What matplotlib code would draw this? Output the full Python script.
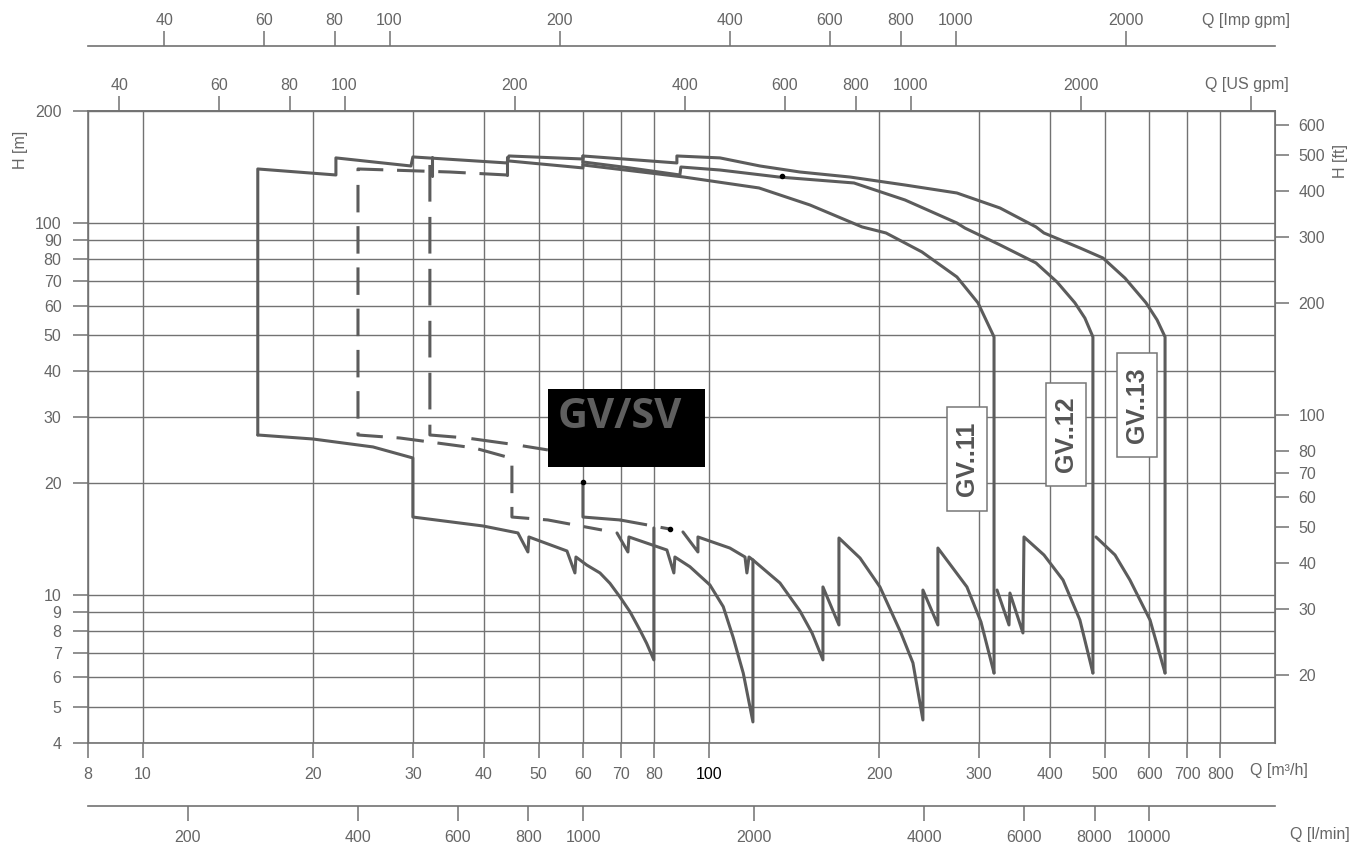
import matplotlib
matplotlib.use("Agg")
from matplotlib import pyplot as plt
from matplotlib import ticker
from matplotlib.patches import Rectangle

plt.rcParams['font.family'] = ['Liberation Sans', 'DejaVu Sans']

W, HPX = 1362, 848
LINE = '#5c5c5c'
GREY = '#666666'
GRID = '#727272'

# unit conversions from m3/h and m
US_GPM = 4.4029
IMP_GPM = 3.6662
L_MIN = 16.6667
FT = 3.28084

q_ticks = [8, 10, 20, 30, 40, 50, 60, 70, 80, 100, 200, 300, 400, 500, 600, 700, 800]
h_ticks = [4, 5, 6, 7, 8, 9, 10, 20, 30, 40, 50, 60, 70, 80, 90, 100, 200]
usgpm_ticks = [40, 60, 80, 100, 200, 400, 600, 800, 1000, 2000, 4000]
impgpm_ticks = [40, 60, 80, 100, 200, 400, 600, 800, 1000, 2000]
lmin_ticks = [200, 400, 600, 800, 1000, 2000, 4000, 6000, 8000, 10000]
ft_ticks = [20, 30, 40, 50, 60, 70, 80, 100, 200, 300, 400, 500, 600]

# outer envelope: min flow, max head steps, GV..13 top and max flow
env_q = [15.96, 15.96, 21.93, 21.93, 29.76, 29.99, 43.97, 44.33, 59.90, 59.90, 87.78, 87.78,
         104.6, 123.1, 144.8, 177.5, 222.0, 274.2, 326.8, 378.2, 390.7, 452.2, 496.7,
         543.2, 591.8, 618.9, 639.4, 639.4]
env_h = [26.92, 139.7, 134.6, 149.6, 142.3, 150.5, 145.0, 151.4, 148.6, 151.4, 145.0, 151.4,
         149.6, 142.3, 137.1, 132.9, 126.5, 120.4, 109.7, 97.6, 94.0, 85.7, 80.5,
         71.1, 61.0, 54.9, 49.4, 6.17]

gv12_q = [59.90, 72.52, 88.86, 89.22, 104.6, 132.9, 180.4, 222.0, 274.2, 283.3, 326.8,
          378.2, 412.0, 443.1, 461.5, 476.8, 476.8]
gv12_h = [145.9, 140.6, 134.6, 141.4, 138.8, 132.9, 128.1, 115.3, 100.0, 96.9, 87.3,
          78.1, 69.4, 61.0, 55.5, 49.4, 6.17]

gv11_q = [59.90, 90.33, 122.6, 150.8, 186.4, 205.5, 237.8, 274.2, 298.7, 318.9, 318.9]
gv11_h = [143.2, 132.9, 124.2, 111.8, 97.6, 94.0, 83.6, 71.6, 61.0, 49.4, 6.17]

top2_q = [44.33, 59.90, 59.90]
top2_h = [146.8, 140.6, 151.4]
step_q = [43.97, 43.97]
step_h = [134.6, 150.5]
stub_q = [32.4, 32.4]
stub_h = [150.5, 133.8]

# minimum head curves (sawtooth)
low1_q = [15.96, 19.97, 25.50, 29.99, 29.99, 39.87, 45.98, 47.89, 48.08, 56.13, 57.98,
          58.22, 60.81, 64.20, 66.85, 69.64, 72.52, 75.52, 77.61, 79.93, 79.93]
low1_h = [26.92, 26.26, 25.0, 23.35, 16.20, 15.33, 14.68, 13.05, 14.32, 13.13, 11.46,
          12.65, 12.04, 11.46, 10.75, 9.877, 9.018, 8.05, 7.417, 6.69, 15.14]

low2_q = [68.80, 71.93, 72.22, 84.28, 86.71, 87.07, 92.56, 100.4, 106.0, 110.3, 115.0,
          119.6, 119.6]
low2_h = [14.68, 13.05, 14.32, 13.21, 11.46, 12.65, 11.91, 10.64, 9.30, 7.71, 6.16,
          4.557, 12.42]

low3_q = [89.97, 95.63, 95.63, 108.9, 115.8, 116.7, 117.7, 119.6, 133.5, 144.8, 152.1,
          159.0, 159.0, 169.7, 169.7, 184.9, 200.5, 218.4, 229.3, 238.8, 238.8, 253.8,
          253.8, 285.6, 302.4, 318.9]
low3_h = [14.77, 13.05, 14.32, 13.37, 12.65, 11.46, 12.65, 12.42, 10.77, 9.058, 7.904,
          6.69, 10.51, 8.305, 14.23, 12.57, 10.51, 7.904, 6.567, 4.612, 10.31, 8.305,
          13.37, 10.51, 8.461, 6.17]

low4_q = [322.8, 338.9, 340.2, 358.7, 360.2, 390.7, 422.2, 452.2, 476.8]
low4_h = [10.31, 8.305, 10.12, 7.904, 14.32, 12.81, 10.97, 8.566, 6.17]

low5_q = [482.7, 521.6, 554.3, 601.5, 639.4]
low5_h = [14.32, 12.81, 10.97, 8.566, 6.17]

# dashed ranges
d1_q = [43.97, 34.86, 23.99, 23.99, 28.46, 37.36, 39.07, 43.97, 44.87, 44.87, 51.94, 64.72]
d1_h = [134.6, 137.1, 139.7, 26.92, 26.42, 25.0, 24.69, 23.49, 23.06, 16.20, 15.91, 14.95]
d2_q = [32.14, 32.14, 37.36, 45.80, 51.94]
d2_h = [143.2, 26.92, 26.42, 25.31, 24.54]

sv_q = [59.90, 59.90, 69.64]
sv_h = [20.13, 16.20, 15.91]
sv_dash_q = [69.64, 85.32]
sv_dash_h = [15.91, 15.04]

dot_q = [59.90, 85.32, 134.6]
dot_h = [20.13, 15.04, 133.5]


def fx(px):
    return px / W


def fy(py):
    return 1 - py / HPX


fig = plt.figure(figsize=(W / 100, HPX / 100), dpi=100)
ax = fig.add_axes([fx(88), fy(743), (1275 - 88) / W, (743 - 111) / HPX])
ax.set_xscale('log')
ax.set_yscale('log')
ax.set_xlim(8, 1000)
ax.set_ylim(4, 200)

ax.set_xticks(q_ticks, labels=[str(t) for t in q_ticks])
ax.set_yticks(h_ticks, labels=[str(t) for t in h_ticks])
ax.minorticks_off()
ax.grid(True, color=GRID, lw=1.0)
ax.tick_params(axis='both', direction='out', length=11, width=1.1, color=GRID,
               labelcolor=GREY, labelsize=11.5)
ax.tick_params(axis='x', pad=6)
ax.tick_params(axis='y', pad=8)
for s in ax.spines.values():
    s.set_color(GRID)
    s.set_linewidth(1.2)
ax.xaxis.get_major_ticks()[q_ticks.index(100)].label1.set_color('black')

solid = dict(color=LINE, lw=2.2, solid_joinstyle='round', solid_capstyle='round')
for q, h in [(env_q, env_h), (gv12_q, gv12_h), (gv11_q, gv11_h), (top2_q, top2_h),
             (step_q, step_h), (stub_q, stub_h), (low1_q, low1_h), (low2_q, low2_h),
             (low3_q, low3_h), (low4_q, low4_h), (low5_q, low5_h), (sv_q, sv_h)]:
    ax.plot(q, h, **solid)
ax.plot(d1_q, d1_h, color=LINE, lw=2.2, ls=(0, (9, 4.5)))
ax.plot(d2_q, d2_h, color=LINE, lw=2.2, ls=(0, (12, 5)))
ax.plot(sv_dash_q, sv_dash_h, color=LINE, lw=2.2, ls=(0, (9, 4.5)))
ax.plot(dot_q, dot_h, 'o', color='black', ms=3, zorder=4)


def sec_x(loc, factor, ticks, labels, pad):
    sec = ax.secondary_xaxis(loc, functions=(lambda v: v * factor, lambda v: v / factor))
    sec.set_xticks(ticks, labels=labels)
    sec.xaxis.set_minor_locator(ticker.NullLocator())
    sec.tick_params(direction='out', length=11, width=1.1, color=GRID,
                    labelcolor=GREY, labelsize=11.5, pad=pad)
    for s in sec.spines.values():
        s.set_color(GRID)
        s.set_linewidth(1.2)
    return sec


sec_x('top', US_GPM, usgpm_ticks, [str(t) for t in usgpm_ticks[:-1]] + [''], 2)
sec_x(1 + 65 / 632, IMP_GPM, impgpm_ticks, [str(t) for t in impgpm_ticks], 2)
sec_x(-63 / 632, L_MIN, lmin_ticks, [str(t) for t in lmin_ticks], 6)

sec_ft = ax.secondary_yaxis('right', functions=(lambda v: v * FT, lambda v: v / FT))
sec_ft.set_yticks(ft_ticks, labels=[str(t) for t in ft_ticks])
sec_ft.yaxis.set_minor_locator(ticker.NullLocator())
sec_ft.tick_params(direction='out', length=10, width=1.1, color=GRID,
                   labelcolor=GREY, labelsize=11.5, pad=7)
for s in sec_ft.spines.values():
    s.set_color(GRID)

# axis titles
tkw = dict(color=GREY, fontsize=11.5)
fig.text(fx(1290), fy(20), 'Q [Imp gpm]', ha='right', va='center', **tkw)
fig.text(fx(1289), fy(84), 'Q [US gpm]', ha='right', va='center', **tkw)
fig.text(fx(1250), fy(771), 'Q [m³/h]', ha='left', va='center', **tkw)
fig.text(fx(1350), fy(835), 'Q [l/min]', ha='right', va='center', **tkw)
fig.text(fx(20), fy(150), 'H [m]', rotation=90, ha='center', va='center', **tkw)
fig.text(fx(1340), fy(161), 'H [ft]', rotation=90, ha='center', va='center', **tkw)

# GV/SV tag
fig.add_artist(Rectangle((fx(548), fy(467)), 157 / W, 78 / HPX, facecolor='black',
                         edgecolor='none', transform=fig.transFigure, zorder=5))
fig.text(fx(558), fy(418), 'GV/SV', ha='left', va='center', color='#5f5f5f',
         fontsize=30, fontweight='bold', family=['Open Sans', 'DejaVu Sans'], zorder=6)

# series tags
for name, x0, y0, x1, y1 in [('GV..11', 947, 407, 987, 511),
                             ('GV..12', 1046, 383, 1086, 486),
                             ('GV..13', 1117, 353, 1157, 457)]:
    fig.add_artist(Rectangle((fx(x0), fy(y1)), (x1 - x0) / W, (y1 - y0) / HPX,
                             facecolor='white', edgecolor='#777777', lw=1.1,
                             transform=fig.transFigure, zorder=5))
    fig.text(fx((x0 + x1) / 2), fy((y0 + y1) / 2), name, rotation=90, ha='center',
             va='center', color='#555555', fontsize=18, fontweight='bold', zorder=6)

fig.savefig('out.png', dpi=100)
